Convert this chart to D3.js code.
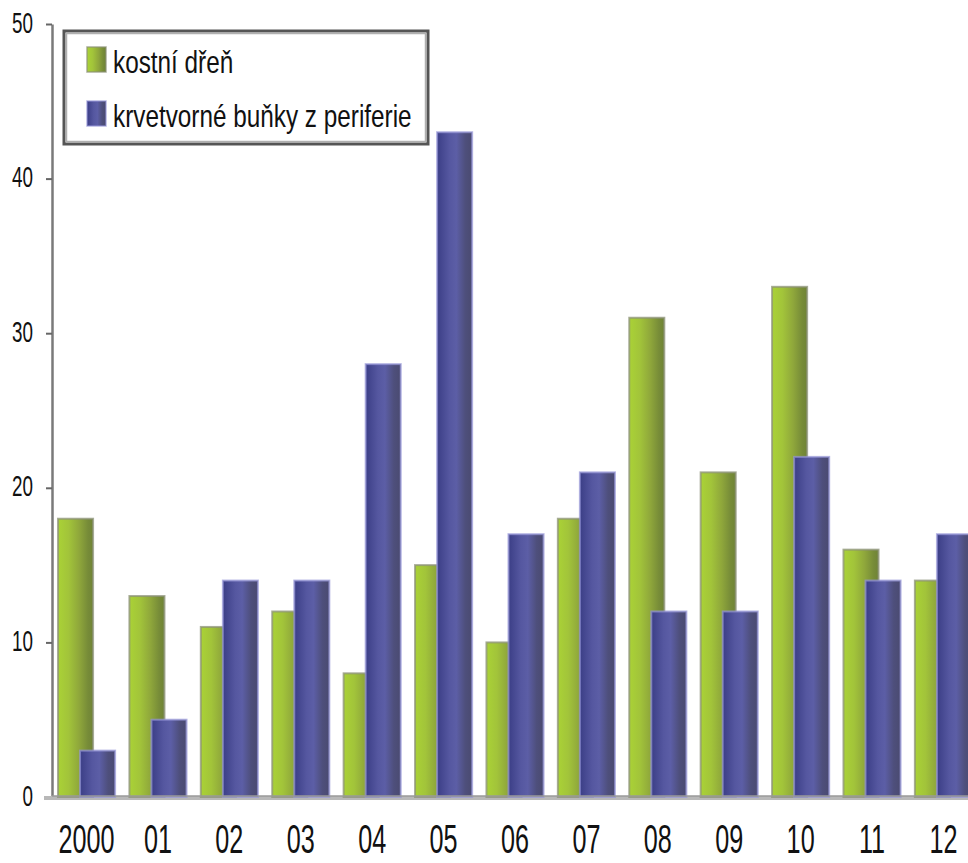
<!DOCTYPE html>
<html>
<head>
<meta charset="utf-8">
<script src="https://cdn.jsdelivr.net/npm/d3@7/dist/d3.min.js"></script>
<style>
  body { margin: 0; background: #fff; }
  svg { display: block; font-family: Arial, "Liberation Sans", sans-serif; }
</style>
</head>
<body>
<svg width="968" height="863"></svg>
<script>
const years = ["2000", "01", "02", "03", "04", "05", "06", "07", "08", "09", "10", "11", "12"];
const seriesNames = ["kostní dřeň", "krvetvorné buňky z periferie"];
const boneMarrow = [18, 13, 11, 12, 8, 15, 10, 18, 31, 21, 33, 16, 14];
const periphery = [3, 5, 14, 14, 28, 43, 17, 21, 12, 12, 22, 14, 17];
const yTicks = [0, 10, 20, 30, 40, 50];

const svg = d3.select("svg");

const x = d3.scaleBand()
  .domain(years)
  .range([52, 978])
  .paddingInner(0.2)
  .paddingOuter(0.084);

const y = d3.scaleLinear()
  .domain([0, 50])
  .range([797, 24]);

// gradients for the shaded bars
const defs = svg.append("defs");
function gradient(id, stops) {
  const g = defs.append("linearGradient").attr("id", id)
    .attr("x1", "0%").attr("x2", "100%").attr("y1", "0%").attr("y2", "0%");
  stops.forEach(s => g.append("stop").attr("offset", s[0]).attr("stop-color", s[1]));
}
gradient("gGreen", [["0%", "#aad236"], ["30%", "#a2c43a"], ["60%", "#8fa73b"], ["85%", "#778c38"], ["100%", "#6f8336"]]);
gradient("gBlue", [["0%", "#3b3e86"], ["35%", "#5557a0"], ["55%", "#5c5ea6"], ["80%", "#4e4f7c"], ["100%", "#4a4a70"]]);

const barW = x.bandwidth() * 0.614;
const shift = x.bandwidth() - barW;

const series = [
  { name: seriesNames[0], values: boneMarrow, fill: "url(#gGreen)", stroke: "rgba(140,145,120,0.75)", dx: 0 },
  { name: seriesNames[1], values: periphery, fill: "url(#gBlue)", stroke: "rgba(150,150,215,0.7)", dx: shift }
];

// axes
const yAxis = svg.append("g")
  .attr("transform", "translate(52,0)")
  .call(d3.axisLeft(y).tickValues(yTicks).tickSize(6).tickSizeOuter(0));
yAxis.select(".domain").attr("stroke", "#7a7a7a").attr("stroke-width", 2.5);
yAxis.selectAll(".tick line").attr("stroke", "#666").attr("stroke-width", 2);
yAxis.selectAll(".tick text")
  .attr("font-size", 29)
  .attr("fill", "#111")
  .attr("x", -19 / 0.65)
  .attr("dy", "0.28em")
  .attr("transform", "scale(0.65,1)");

const xAxis = svg.append("g")
  .attr("transform", "translate(0,798)")
  .call(d3.axisBottom(x).tickSize(0).tickSizeOuter(0));
xAxis.select(".domain").attr("stroke", "#b8b8b8").attr("stroke-width", 4)
  .attr("d", "M44,0H968");
xAxis.selectAll(".tick text")
  .attr("font-size", 40)
  .attr("fill", "#111")
  .attr("y", 27)
  .attr("dy", "0.71em")
  .attr("transform", "scale(0.63,1)");

// bars
series.forEach(s => {
  svg.append("g")
    .selectAll("rect")
    .data(s.values)
    .join("rect")
    .attr("x", (d, i) => x(years[i]) + s.dx)
    .attr("y", d => y(d))
    .attr("width", barW)
    .attr("height", d => y(0) - y(d))
    .attr("fill", s.fill)
    .attr("stroke", s.stroke)
    .attr("stroke-width", 2);
});

// dark bottom edge of bars on the baseline
svg.append("line")
  .attr("x1", 52).attr("x2", 968)
  .attr("y1", 796).attr("y2", 796)
  .attr("stroke", "#9a9a9a").attr("stroke-width", 1.5);

// legend
const legend = svg.append("g").attr("transform", "translate(64,31)");
legend.append("rect")
  .attr("width", 364).attr("height", 113)
  .attr("fill", "#fff")
  .attr("stroke", "#555").attr("stroke-width", 3);
legend.append("rect")
  .attr("x", 2.5).attr("y", 2.5)
  .attr("width", 359).attr("height", 108)
  .attr("fill", "none")
  .attr("stroke", "#b0b0b0").attr("stroke-width", 1.5);

const items = legend.selectAll("g.item")
  .data(series)
  .join("g")
  .attr("class", "item")
  .attr("transform", (d, i) => `translate(23,${16 + i * 54})`);
items.append("rect")
  .attr("width", 19).attr("height", 25)
  .attr("fill", d => d.fill)
  .attr("stroke", d => d.stroke)
  .attr("stroke-width", 1.5);
items.append("text")
  .attr("transform", "translate(26,26) scale(0.76,1)")
  .attr("font-size", 32)
  .attr("fill", "#111")
  .text(d => d.name);
</script>
</body>
</html>
